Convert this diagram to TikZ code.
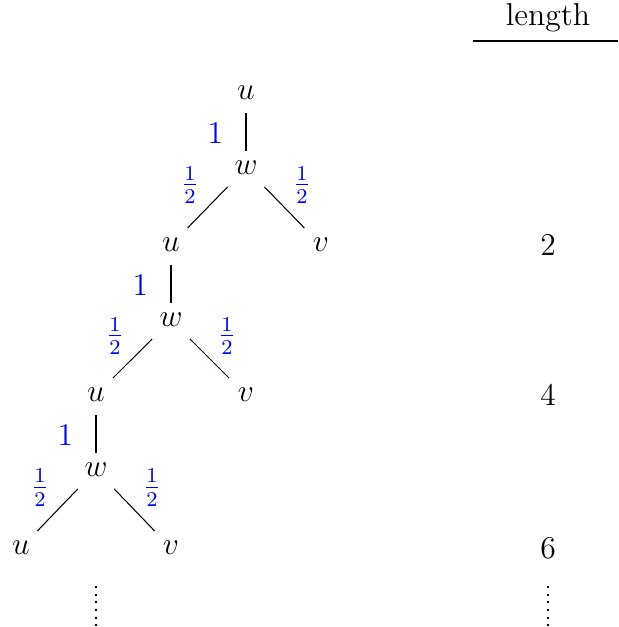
\documentclass[tikz,border=0pt]{standalone}
\usepackage{xcolor}
\begin{document}
\begin{tikzpicture}[x=0.013333cm,y=-0.013333cm,
  every node/.style={font=\large},
  vert/.style={inner sep=3.33pt},
  edge/.style={draw=black,line width=0.4pt,shorten <=1.5pt,shorten >=0.5pt},
  wlab/.style={text=blue,inner sep=2.5pt},
  onelab/.style={wlab,midway,left=2.1mm,yshift=-1pt},
  halfL/.style={wlab,midway,above left,xshift=-1pt,yshift=-1.6pt},
  halfR/.style={wlab,midway,above right,xshift=1pt,yshift=-1.6pt},
  dotsline/.style={line width=0.8pt,dash pattern=on 0.8pt off 2.1pt}]
\useasboundingbox (0,0) rectangle (618,627);
% tree nodes
\node[vert] (u1) at (246,93) {$u$};
\node[vert] (w1) at (246,168) {$w$};
\node[vert] (u2) at (171,245) {$u$};
\node[vert] (v1) at (321,245) {$v$};
\node[vert] (w2) at (171,320) {$w$};
\node[vert] (u3) at (96,395) {$u$};
\node[vert] (v2) at (246,395) {$v$};
\node[vert] (w3) at (96,470) {$w$};
\node[vert] (u4) at (21,548) {$u$};
\node[vert] (v3) at (171,548) {$v$};
% edges
\draw[edge] (u1) -- node[onelab] {$1$} (w1);
\draw[edge] (w1) -- node[halfL] {$\frac12$} (u2);
\draw[edge] (w1) -- node[halfR] {$\frac12$} (v1);
\draw[edge] (u2) -- node[onelab] {$1$} (w2);
\draw[edge] (w2) -- node[halfL] {$\frac12$} (u3);
\draw[edge] (w2) -- node[halfR] {$\frac12$} (v2);
\draw[edge] (u3) -- node[onelab] {$1$} (w3);
\draw[edge] (w3) -- node[halfL] {$\frac12$} (u4);
\draw[edge] (w3) -- node[halfR] {$\frac12$} (v3);
% length column
\node (len) at (548,18) {length};
\coordinate (rl) at (473,41);
\coordinate (rr) at (618,41);
\draw[line width=0.4pt] (rl) -- (rr);
\node (l2) at (548,245) {$2$};
\node (l4) at (548,395) {$4$};
\node (l6) at (548,548) {$6$};
% continuation dots
\coordinate (dA1) at (96,586);
\coordinate (dA2) at (96,627);
\coordinate (dB1) at (548,586);
\coordinate (dB2) at (548,627);
\draw[dotsline] (dA1) -- (dA2);
\draw[dotsline] (dB1) -- (dB2);
\end{tikzpicture}
\end{document}
